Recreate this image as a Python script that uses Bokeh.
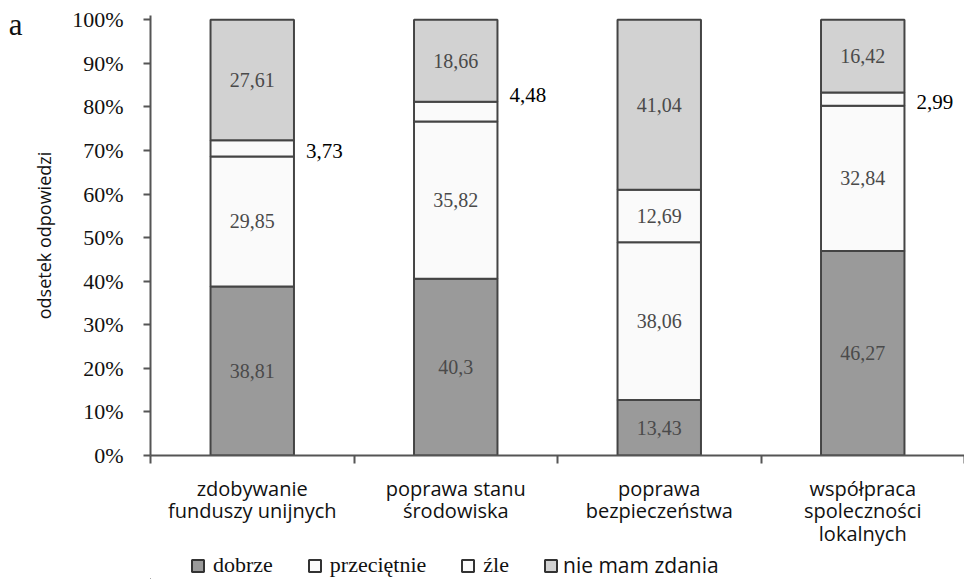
from bokeh.plotting import figure
from bokeh.models import (ColumnDataSource, FixedTicker, Range1d, Legend, LegendItem,
                          LinearAxis)
from bokeh.layouts import column
from bokeh.core.properties import value
from bokeh.embed import file_html
from bokeh.resources import INLINE

categories = ["zdobywanie\nfunduszy unijnych", "poprawa stanu\nśrodowiska",
              "poprawa\nbezpieczeństwa", "współpraca\nspoleczności\nlokalnych"]
series = ["dobrze", "przeciętnie", "źle", "nie mam zdania"]
dobrze = [38.81, 40.3, 13.43, 46.27]
przecietnie = [29.85, 35.82, 38.06, 32.84]
zle = [3.73, 4.48, 12.69, 2.99]
nie_mam_zdania = [27.61, 18.66, 41.04, 16.42]
y_ticks = [0, 10, 20, 30, 40, 50, 60, 70, 80, 90, 100]
panel_letter = "a"

colors = ["#9a9a9a", "#fafafa", "#fafafa", "#d2d2d2"]
raw = [dobrze, przecietnie, zle, nie_mam_zdania]
# vertical pixel nudges for labels drawn outside the bars (style only)
outside_nudge = [3, -17, 3, 3]

SERIF = "Liberation Serif"
SANS = "Open Sans"
W = 964

p = figure(width=W, height=550, output_backend="svg", toolbar_location=None,
           x_range=Range1d(0, 4), y_range=Range1d(0, 101),
           min_border_left=150, min_border_right=0, min_border_top=15,
           min_border_bottom=91)
p.outline_line_color = None
p.grid.visible = False
p.background_fill_color = "white"

xs = [i + 0.5 for i in range(len(categories))]
totals = [sum(r[i] for r in raw) for i in range(len(categories))]
bar_w = 0.41

renderers = []
bottoms = [0.0] * len(categories)
for k, s in enumerate(series):
    pct = [raw[k][i] / totals[i] * 100 for i in range(len(categories))]
    tops = [bottoms[i] + pct[i] for i in range(len(categories))]
    src = ColumnDataSource(dict(x=xs, bottom=list(bottoms), top=tops))
    r = p.vbar(x="x", bottom="bottom", top="top", width=bar_w, source=src,
               fill_color=colors[k], line_color="#444444", line_width=2)
    renderers.append(r)
    inside = dict(x=[], y=[], t=[])
    outside = dict(x=[], y=[], t=[], dy=[])
    for i in range(len(categories)):
        mid = (bottoms[i] + tops[i]) / 2
        txt = f"{raw[k][i]:g}".replace(".", ",")
        if pct[i] < 8:
            outside["x"].append(xs[i] + bar_w / 2)
            outside["y"].append(mid)
            outside["t"].append(txt)
            outside["dy"].append(outside_nudge[i])
        else:
            inside["x"].append(xs[i])
            inside["y"].append(mid)
            inside["t"].append(txt)
    if inside["x"]:
        p.text(x="x", y="y", text="t", source=ColumnDataSource(inside),
               text_align="center", text_baseline="middle",
               text_font=value(SERIF), text_font_size="20px", text_color="#4a4a4a")
    if outside["x"]:
        p.text(x="x", y="y", text="t", source=ColumnDataSource(outside),
               x_offset=12, y_offset="dy", text_align="left", text_baseline="middle",
               text_font=value(SERIF), text_font_size="21px", text_color="#000000")
    bottoms = tops

# y axis
p.yaxis.ticker = FixedTicker(ticks=y_ticks)
p.yaxis.major_label_overrides = {t: f"{t}%" for t in y_ticks}
p.yaxis.major_label_text_font = SERIF
p.yaxis.major_label_text_font_size = "22px"
p.yaxis.major_label_text_color = "#111111"
p.yaxis.major_label_standoff = 20
p.yaxis.axis_line_color = "#555555"
p.yaxis.axis_line_width = 2
p.yaxis.major_tick_line_color = "#555555"
p.yaxis.major_tick_line_width = 2
p.yaxis.major_tick_out = 7
p.yaxis.major_tick_in = 0
p.yaxis.minor_tick_line_color = None
p.yaxis.axis_label = "odsetek odpowiedzi"
p.yaxis.axis_label_text_font = SANS
p.yaxis.axis_label_text_font_style = "normal"
p.yaxis.axis_label_text_font_size = "18px"
p.yaxis.axis_label_text_color = "#111111"
p.yaxis.axis_label_standoff = 13

# panel letter as an outer left axis label
a_axis = LinearAxis(ticker=FixedTicker(ticks=[99]),
                    major_label_overrides={99: panel_letter},
                    axis_line_color=None, major_tick_line_color=None,
                    minor_tick_line_color=None, major_tick_out=0,
                    major_label_standoff=7, major_label_text_font=SERIF,
                    major_label_text_font_size="31px", major_label_text_color="#111111")
p.add_layout(a_axis, "left")

# x axis
p.xaxis.ticker = FixedTicker(ticks=xs, minor_ticks=list(range(len(categories) + 1)))
p.xaxis.major_label_overrides = {x: c for x, c in zip(xs, categories)}
p.xaxis.major_label_text_font = SANS
p.xaxis.major_label_text_font_size = "20px"
p.xaxis.major_label_text_line_height = 0.85
p.xaxis.major_label_text_color = "#111111"
p.xaxis.major_label_standoff = 11
p.xaxis.axis_line_color = "#555555"
p.xaxis.axis_line_width = 2
p.xaxis.major_tick_line_color = None
p.xaxis.minor_tick_line_color = "#555555"
p.xaxis.minor_tick_line_width = 2
p.xaxis.minor_tick_out = 8
p.xaxis.minor_tick_in = 0

# legend strip (frames of the column are aligned with the main plot)
p2 = figure(width=W, height=29, output_backend="svg", toolbar_location=None,
            x_range=Range1d(0, 1), y_range=Range1d(0, 1),
            x_axis_location=None, y_axis_location=None,
            min_border_left=0, min_border_right=0, min_border_top=0, min_border_bottom=0)
p2.outline_line_color = None
p2.grid.visible = False
dummy = []
for k in range(len(series)):
    dummy.append(p2.vbar(x=[-1], top=[0], width=0.1, fill_color=colors[k],
                         line_color="#333333", line_width=2))
leg_common = dict(orientation="horizontal", glyph_width=15, glyph_height=15,
                  padding=0, margin=0, border_line_color=None, background_fill_alpha=0,
                  label_text_color="#111111")
leg1 = Legend(items=[LegendItem(label=series[k], renderers=[dummy[k]]) for k in range(3)],
              location=(40, 1), label_text_font=SERIF, label_text_font_size="22px",
              label_standoff=8, spacing=34, **leg_common)
leg2 = Legend(items=[LegendItem(label=series[3], renderers=[dummy[3]])],
              location=(393, 0), label_text_font=SANS, label_text_font_size="21px",
              label_standoff=5, spacing=30, **leg_common)
p2.add_layout(leg1, "center")
p2.add_layout(leg2, "center")

layout = column(p, p2, spacing=0)
open("out.html", "w").write(file_html(layout, INLINE))
